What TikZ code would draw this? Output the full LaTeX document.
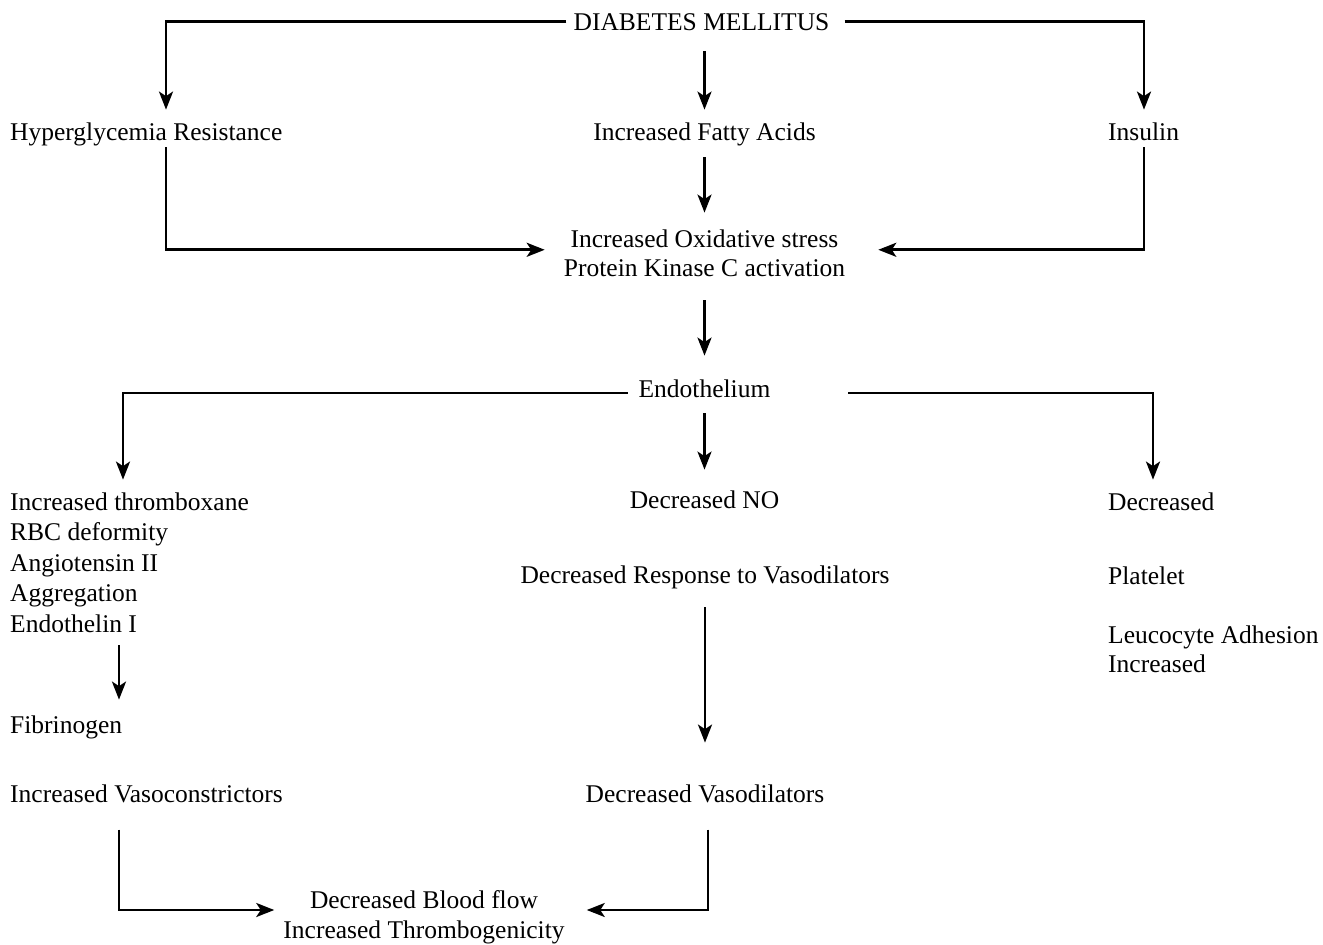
\documentclass[tikz,border=0pt]{standalone}
\usepackage{fontspec}
\setmainfont{Liberation Serif}
\usetikzlibrary{arrows.meta,positioning,calc}

\tikzset{
    flow/.style={line width=2.6pt, -{Stealth[length=18pt,width=14pt,inset=4.5pt]}},
    txt/.style={inner sep=0pt, font=\fontsize{25.5}{30}\selectfont},
}

\begin{document}
\begin{tikzpicture}[x=1pt,y=-1pt]
    \useasboundingbox (0,0) rectangle (1323,945);

    % first level
    \node[txt, anchor=base] (dm) at (701.5,30) {DIABETES MELLITUS};
    \node[txt, anchor=base west] (hyper) at (10,140) {Hyperglycemia Resistance};
    \node[txt, anchor=base] (fatty) at (704.5,140) {Increased Fatty Acids};
    \node[txt, anchor=base west] (insulin) at (1108,140) {Insulin};
    \node[txt, anchor=base, align=center, font=\fontsize{25.5}{29}\selectfont] (oxid) at (704.5,276) {Increased Oxidative stress\\Protein Kinase C activation};
    \node[txt, anchor=base] (endo) at (704.5,397) {Endothelium};

    % three branches (base = last line)
    \node[txt, anchor=base west, align=left, font=\fontsize{25.5}{30.5}\selectfont] (thromb) at (10,632)
        {Increased thromboxane\\RBC deformity\\Angiotensin II\\Aggregation\\Endothelin I};
    \node[txt, anchor=base] (decno) at (704.5,508) {Decreased NO};
    \node[txt, anchor=base] (resp) at (705,583) {Decreased Response to Vasodilators};
    \node[txt, anchor=base west] (decr) at (1108,510) {Decreased};
    \node[txt, anchor=base west] (plat) at (1108,584) {Platelet};
    \node[txt, anchor=base west, align=left, font=\fontsize{25.5}{29}\selectfont] (leuco) at (1108,672) {Leucocyte Adhesion\\Increased};
    \node[txt, anchor=base west] (fibr) at (10,733) {Fibrinogen};
    \node[txt, anchor=base west] (vcon) at (10,802) {Increased Vasoconstrictors};
    \node[txt, anchor=base] (vdil) at (705,802) {Decreased Vasodilators};
    \node[txt, anchor=base, align=center] (blood) at (424,938) {Decreased Blood flow\\Increased Thrombogenicity};

    % arrows from the top
    \draw[flow, shorten >=12.5pt] ([xshift=-7pt]dm.west) -| ([xshift=156pt]hyper.north west);
    \draw[flow, shorten >=12.5pt] ([xshift=15pt]dm.east) -| ([xshift=36pt]insulin.north west);
    \draw[flow, shorten <=21pt, shorten >=12.5pt] (fatty.north |- dm.south) -- (fatty.north);
    \draw[flow, shorten <=11.5pt, shorten >=16.5pt] (fatty.south) -- (oxid.north);
    \draw[flow, shorten <=1.5pt, shorten >=19pt] ([xshift=156pt]hyper.south west) |- ([yshift=3pt]oxid.west);
    \draw[flow, shorten <=7pt, shorten >=33pt] ([xshift=36pt]insulin.south west) |- ([yshift=3pt]oxid.east);
    \draw[flow, shorten <=24pt, shorten >=23.5pt] (oxid.south) -- (endo.north);

    % endothelium
    \draw[flow, shorten >=12.5pt] ([xshift=-10.5pt,yshift=4pt]endo.base west) -| ([xshift=113pt]thromb.north west);
    \draw[flow, shorten >=12.5pt] ([xshift=77.5pt,yshift=4pt]endo.base east) -| ([xshift=45pt]decr.north west);
    \draw[flow, shorten <=16pt, shorten >=20.5pt] (endo.south) -- (decno.north);
    \draw[flow, shorten <=18.5pt, shorten >=41.5pt] (resp.south) -- (vdil.north);
    \draw[flow, shorten <=13pt, shorten >=15.5pt] ([xshift=109pt]thromb.south west) -- ([xshift=109pt]fibr.north west);

    % to the bottom
    \draw[flow, shorten <=27pt, shorten >=9pt] ([xshift=109pt]vcon.south west) |- ([yshift=28pt]blood.base west);
    \draw[flow, shorten <=27pt, shorten >=22pt] ([xshift=3pt]vdil.south) |- ([yshift=28pt]blood.base east);
\end{tikzpicture}
\end{document}
